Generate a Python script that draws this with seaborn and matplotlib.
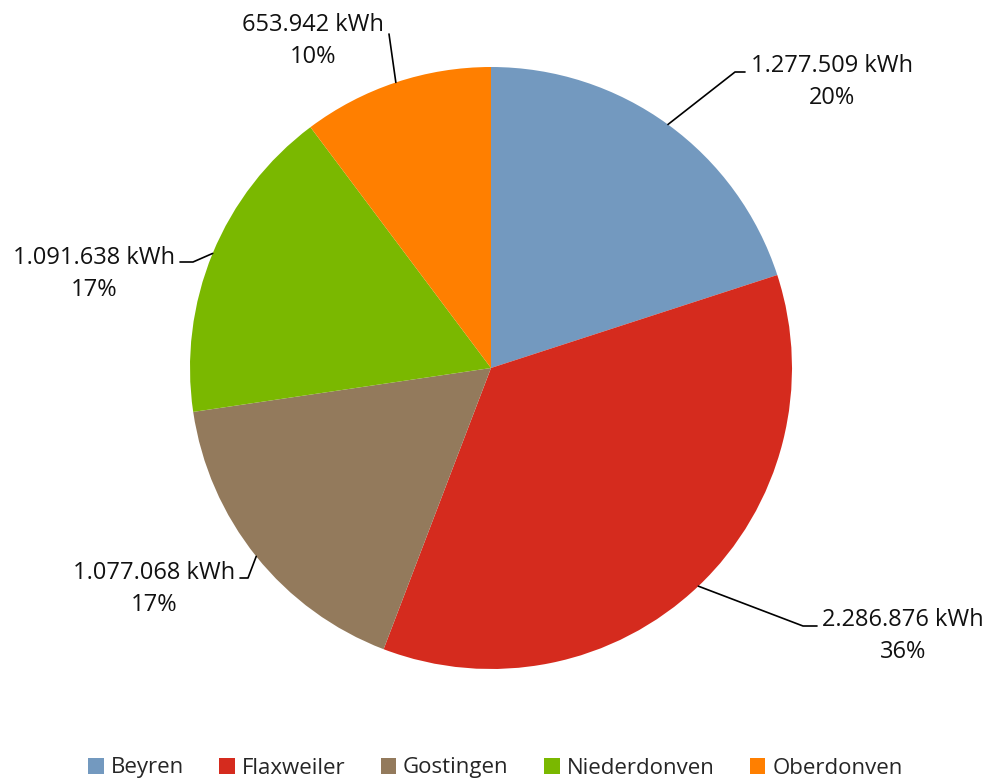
import matplotlib
matplotlib.use("Agg")
import matplotlib.pyplot as plt
import seaborn as sns
import numpy as np
from matplotlib.patches import Patch

sns.set_theme(style="white")
plt.rcParams['font.family'] = ['Open Sans', 'DejaVu Sans']

categories = ["Beyren", "Flaxweiler", "Gostingen", "Niederdonven", "Oberdonven"]
values = [1277509, 2286876, 1077068, 1091638, 653942]
value_labels = ["1.277.509 kWh", "2.286.876 kWh", "1.077.068 kWh", "1.091.638 kWh", "653.942 kWh"]
pct_labels = ["20%", "36%", "17%", "17%", "10%"]
colors = ["#7399BF", "#D52B1E", "#937A5C", "#7AB800", "#FF7F00"]

W, H = 991, 782
fig = plt.figure(figsize=(W / 100, H / 100), dpi=100)
cx, cy, R = 491, 368, 301
ax = fig.add_axes([(cx - R) / W, (H - cy - R) / H, 2 * R / W, 2 * R / H])

wedges, _ = ax.pie(values, colors=colors, startangle=90, counterclock=False,
                   radius=1.0, wedgeprops=dict(linewidth=0))
ax.set_xlim(-1, 1)
ax.set_ylim(-1, 1)
ax.set_aspect('equal')
ax.axis('off')

def d(px, py):
    return ((px - cx) / R, (cy - py) / R)

# (elbow point, line end, center of first text line) in reference pixel layout
layout = [
    ((735, 72), (745, 72), (832, 66)),
    ((803, 626), (817, 626), (903, 620)),
    ((248, 578), (240, 578), (154, 573)),
    ((193, 262), (180, 262), (94, 258)),
    ((389, 34), (389, 34), (313, 25)),
]

for w, vl, pl, (elb, end, tc) in zip(wedges, value_labels, pct_labels, layout):
    ang = np.deg2rad((w.theta1 + w.theta2) / 2)
    sx, sy = np.cos(ang), np.sin(ang)
    ex, ey = d(*elb)
    nx, ny = d(*end)
    ax.plot([sx, ex, nx], [sy, ey, ny], color="black", lw=1.2, clip_on=False)
    tx, ty = d(*tc)
    ax.text(tx, ty, vl, ha="center", va="center", fontsize=17,
            color="#111111", clip_on=False)
    tx2, ty2 = d(tc[0], tc[1] + 32)
    ax.text(tx2, ty2, pl, ha="center", va="center", fontsize=17,
            color="#111111", clip_on=False)

handles = [Patch(facecolor=c, edgecolor="none") for c in colors]
fig.legend(handles, categories, loc="center", bbox_to_anchor=(0.5, 1 - 768 / H),
           ncol=5, frameon=False, handlelength=0.7, handleheight=0.7,
           handletextpad=0.3, columnspacing=1.6,
           prop={'family': ['Open Sans', 'DejaVu Sans'], 'size': 16})

fig.savefig("out.png", dpi=100)
